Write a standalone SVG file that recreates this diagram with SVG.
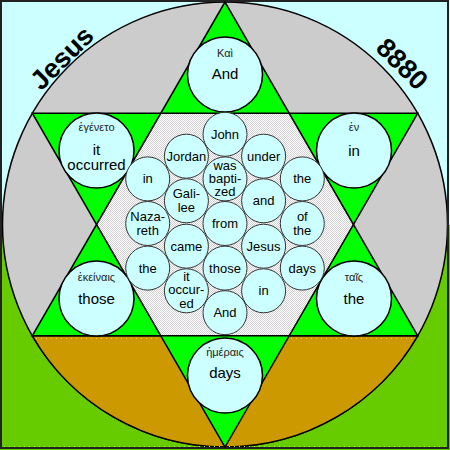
<svg xmlns="http://www.w3.org/2000/svg" width="450" height="450" viewBox="0 0 450 450">
<style>
.tip{fill:#ccffff;stroke:#000;stroke-width:1.5}
.in{fill:#ccffff;stroke:#333;stroke-width:1}
text{font-family:"Liberation Sans","DejaVu Sans",Arial,sans-serif;fill:#000;text-anchor:middle}
.gr{font-size:11px;fill:#222}
.en{font-size:15px}
.sm{font-size:13px}
.big{font-size:27px;font-weight:bold}
.tri{fill:none;stroke:#000;stroke-width:1.5;stroke-linejoin:miter}
</style>
<defs>
<pattern id="dither" width="2" height="2" patternUnits="userSpaceOnUse">
<rect width="2" height="2" fill="#ffffff"/>
<rect width="1" height="1" fill="#d2d0d2"/>
<rect x="1" y="1" width="1" height="1" fill="#d2d0d2"/>
</pattern>
</defs>
<g id="background">
<rect x="0" y="0" width="450" height="225" fill="#ccffff"/>
<rect x="0" y="225" width="450" height="225" fill="#66cc00"/>
<circle cx="225" cy="224.5" r="222.5" fill="#cccccc" stroke="#000" stroke-width="1.5"/>
<path d="M32.3 335.75 A222.5 222.5 0 0 0 417.7 335.75 Z" fill="#cc9900" stroke="#000" stroke-width="1.5"/>
<line x1="36" y1="338.5" x2="414" y2="338.5" stroke="#ffcc44" stroke-width="1" stroke-dasharray="1 4"/>
<line x1="4" y1="446.5" x2="446" y2="446.5" stroke="#99ff33" stroke-width="1" stroke-dasharray="1 4"/>
<rect x="1" y="1" width="447" height="447" fill="none" stroke="#222" stroke-width="2"/>
</g>
<g id="star">
<polygon points="225,2 32.3,335.75 417.7,335.75" fill="#00ff00"/>
<polygon points="225,447 32.3,113.25 417.7,113.25" fill="#00ff00"/>
<polygon points="160.8,113.25 289.2,113.25 353.5,224.5 289.2,335.75 160.8,335.75 96.5,224.5" fill="url(#dither)"/>
<polygon class="tri" points="225,2 32.3,335.75 417.7,335.75"/>
<polygon class="tri" points="225,447 32.3,113.25 417.7,113.25"/>
</g>
<g id="title-jesus"><text class="big" transform="translate(62,58) rotate(-45)" y="9">Jesus</text></g>
<g id="title-8880"><text class="big" transform="translate(402,64) rotate(45)" y="9">8880</text></g>
<g id="tip-top"><circle class="tip" cx="225" cy="74.5" r="37.5"/><text class="gr" x="225" y="57">Καὶ</text><text class="en" x="225" y="79">And</text></g>
<g id="tip-upper-left"><circle class="tip" cx="96.5" cy="150.5" r="37.5"/><text class="gr" x="96.5" y="131">ἐγένετο</text><text class="en" x="96.5" y="155">it</text><text class="en" x="96.5" y="170">occurred</text></g>
<g id="tip-upper-right"><circle class="tip" cx="354" cy="150.5" r="37.5"/><text class="gr" x="354" y="131">ἐν</text><text class="en" x="354" y="155.5">in</text></g>
<g id="tip-lower-left"><circle class="tip" cx="96.5" cy="298.5" r="37.5"/><text class="gr" x="96.5" y="281">ἐκείναις</text><text class="en" x="96.5" y="303.5">those</text></g>
<g id="tip-lower-right"><circle class="tip" cx="354" cy="298.5" r="37.5"/><text class="gr" x="354" y="281">ταῖς</text><text class="en" x="354" y="303.5">the</text></g>
<g id="tip-bottom"><circle class="tip" cx="225" cy="375.5" r="37.5"/><text class="gr" x="225" y="355.5">ἡμέραις</text><text class="en" x="225" y="378">days</text></g>
<g id="n-john"><circle class="in" cx="225" cy="134.3" r="22"/><text class="sm" x="225" y="138.8">John</text></g>
<g id="n-was-baptized"><circle class="in" cx="225" cy="178.9" r="22"/><text class="sm" x="225" y="169.6">was</text><text class="sm" x="225" y="182.9">bapti-</text><text class="sm" x="225" y="196.2">zed</text></g>
<g id="n-from"><circle class="in" cx="225" cy="223.5" r="22"/><text class="sm" x="225" y="228">from</text></g>
<g id="n-those"><circle class="in" cx="225" cy="268.1" r="22"/><text class="sm" x="225" y="272.6">those</text></g>
<g id="n-and-bottom"><circle class="in" cx="225" cy="312.7" r="22"/><text class="sm" x="225" y="317.2">And</text></g>
<g id="n-jordan"><circle class="in" cx="186.4" cy="156.2" r="22"/><text class="sm" x="186.4" y="160.7">Jordan</text></g>
<g id="n-galilee"><circle class="in" cx="186.4" cy="200.8" r="22"/><text class="sm" x="186.4" y="198.3">Gali-</text><text class="sm" x="186.4" y="211.8">lee</text></g>
<g id="n-came"><circle class="in" cx="186.4" cy="246.2" r="22"/><text class="sm" x="186.4" y="250.7">came</text></g>
<g id="n-it-occured"><circle class="in" cx="186.4" cy="290.8" r="22"/><text class="sm" x="186.4" y="281">it</text><text class="sm" x="186.4" y="294.3">occur-</text><text class="sm" x="186.4" y="307.6">ed</text></g>
<g id="n-under"><circle class="in" cx="263.6" cy="156.2" r="22"/><text class="sm" x="263.6" y="160.7">under</text></g>
<g id="n-and"><circle class="in" cx="263.6" cy="200.8" r="22"/><text class="sm" x="263.6" y="205.3">and</text></g>
<g id="n-jesus"><circle class="in" cx="263.6" cy="246.2" r="22"/><text class="sm" x="263.6" y="250.7">Jesus</text></g>
<g id="n-in-right"><circle class="in" cx="263.6" cy="290.8" r="22"/><text class="sm" x="263.6" y="295.3">in</text></g>
<g id="n-in-left"><circle class="in" cx="147.7" cy="178.9" r="22"/><text class="sm" x="147.7" y="183.4">in</text></g>
<g id="n-nazareth"><circle class="in" cx="147.7" cy="223.5" r="22"/><text class="sm" x="147.7" y="221">Naza-</text><text class="sm" x="147.7" y="234.5">reth</text></g>
<g id="n-the-left"><circle class="in" cx="147.7" cy="268.1" r="22"/><text class="sm" x="147.7" y="272.6">the</text></g>
<g id="n-the-right"><circle class="in" cx="302.3" cy="178.9" r="22"/><text class="sm" x="302.3" y="183.4">the</text></g>
<g id="n-of-the"><circle class="in" cx="302.3" cy="223.5" r="22"/><text class="sm" x="302.3" y="221">of</text><text class="sm" x="302.3" y="234.5">the</text></g>
<g id="n-days"><circle class="in" cx="302.3" cy="268.1" r="22"/><text class="sm" x="302.3" y="272.6">days</text></g>
<g id="connectors"></g>
</svg>
